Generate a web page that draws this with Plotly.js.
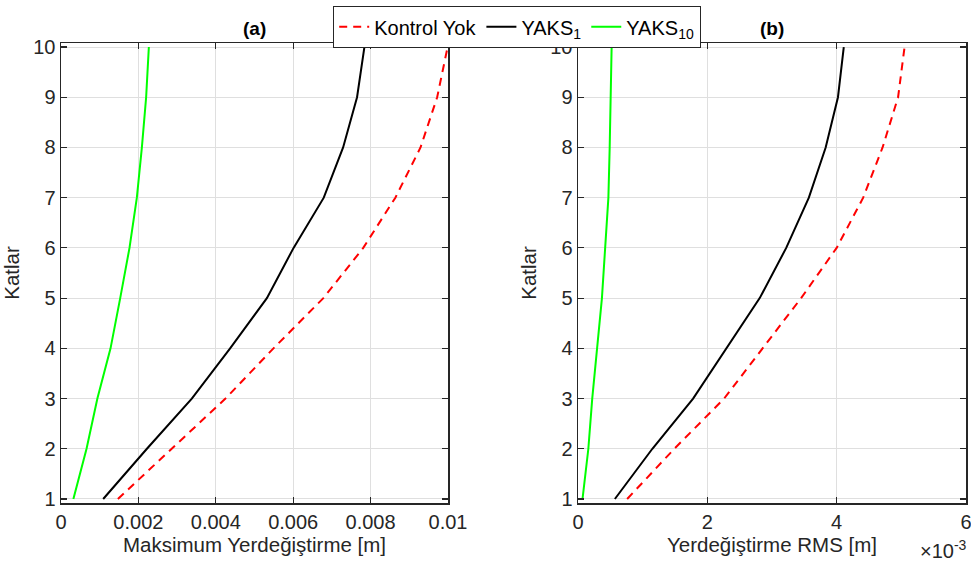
<!DOCTYPE html>
<html>
<head>
<meta charset="utf-8">
<script src="https://cdn.plot.ly/plotly-3.0.1.min.js"></script>
<style>html,body{margin:0;padding:0;background:#fff;}#chart{width:971px;height:566px;}</style>
</head>
<body>
<div id="chart"></div>
<script>
// Katlar (floors)
const katlar = [1, 2, 3, 4, 5, 6, 7, 8, 9, 10];
// (a) Maksimum Yerdeğiştirme [m]
const maxKontrolYok = [0.00147, 0.00286, 0.00425, 0.00549, 0.00678, 0.00781, 0.00864, 0.00929, 0.00972, 0.00999];
const maxYAKS1      = [0.00109, 0.00222, 0.00338, 0.00437, 0.00532, 0.00601, 0.00679, 0.00729, 0.00765, 0.00784];
const maxYAKS10     = [0.00032, 0.00066, 0.00094, 0.00128, 0.00153, 0.00177, 0.00196, 0.00209, 0.00220, 0.00227];
// (b) Yerdeğiştirme RMS [m]
const rmsKontrolYok = [0.00076, 0.00149, 0.00226, 0.00286, 0.00345, 0.00400, 0.00441, 0.00471, 0.00495, 0.00505];
const rmsYAKS1      = [0.00057, 0.00115, 0.00178, 0.00229, 0.00281, 0.00322, 0.00357, 0.00383, 0.00402, 0.00411];
const rmsYAKS10     = [0.00007, 0.00016, 0.00022, 0.00030, 0.00037, 0.00042, 0.00047, 0.00049, 0.00050, 0.00052];

const seriesNames = ['Kontrol Yok', 'YAKS<sub>1</sub>', 'YAKS<sub>10</sub>'];
const xTicksA = [0, 0.002, 0.004, 0.006, 0.008, 0.01];
const xTicksB = [0, 0.002, 0.004, 0.006];
const xTickTextB = ['0', '2', '4', '6'];
const yTicks = [1, 2, 3, 4, 5, 6, 7, 8, 9, 10];

const W = 971, H = 566;
const px = v => v / W, py = v => 1 - v / H;

const styles = [
  {color: '#ff0000', width: 2, dash: '8px,6px'},
  {color: '#000000', width: 2, dash: 'solid'},
  {color: '#00ff00', width: 2, dash: 'solid'}
];
const dataA = [maxKontrolYok, maxYAKS1, maxYAKS10];
const dataB = [rmsKontrolYok, rmsYAKS1, rmsYAKS10];

const traces = [];
dataA.forEach((d, i) => traces.push({x: d, y: katlar, type: 'scatter', mode: 'lines', name: seriesNames[i],
  line: styles[i], xaxis: 'x', yaxis: 'y', showlegend: true}));
dataB.forEach((d, i) => traces.push({x: d, y: katlar, type: 'scatter', mode: 'lines', name: seriesNames[i],
  line: styles[i], xaxis: 'x2', yaxis: 'y2', showlegend: false}));

const FF = 'Liberation Sans, Arial, sans-serif';
const font = {family: FF, size: 20.5, color: '#262626'};
const axisCommon = {
  showline: true, linecolor: '#262626', linewidth: 1.5, mirror: 'ticks',
  ticks: 'inside', ticklen: 6, tickcolor: '#262626', tickwidth: 1.2,
  showgrid: true, gridcolor: '#dfdfdf', gridwidth: 1, zeroline: false,
  ticklabeloverflow: 'allow',
  tickfont: {family: FF, size: 20, color: '#262626'}
};

const layout = {
  width: W, height: H,
  margin: {l: 0, r: 0, t: 0, b: 0},
  paper_bgcolor: '#ffffff', plot_bgcolor: '#ffffff',
  font: font,
  showlegend: true,
  legend: {
    orientation: 'h', x: px(333), y: py(6), xanchor: 'left', yanchor: 'top',
    bgcolor: '#ffffff', bordercolor: '#262626', borderwidth: 1.2,
    font: {family: FF, size: 20, color: '#000000'},
    itemwidth: 30, tracegroupgap: 0
  },
  xaxis: Object.assign({}, axisCommon, {
    domain: [px(61), px(448)], range: [0, 0.0100001], tickvals: xTicksA, anchor: 'y',
    title: {text: 'Maksimum Yerdeğiştirme [m]', font: font, standoff: 6}
  }),
  yaxis: Object.assign({}, axisCommon, {
    domain: [py(503), py(43)], range: [0.92, 10.08], tickvals: yTicks, anchor: 'x',
    title: {text: 'Katlar', font: font, standoff: 8}
  }),
  xaxis2: Object.assign({}, axisCommon, {
    domain: [px(578), px(966)], range: [0, 0.0060001], tickvals: xTicksB, ticktext: xTickTextB, anchor: 'y2',
    title: {text: 'Yerdeğiştirme RMS [m]', font: font, standoff: 6}
  }),
  yaxis2: Object.assign({}, axisCommon, {
    domain: [py(503), py(43)], range: [0.92, 10.08], tickvals: yTicks, anchor: 'x2',
    title: {text: 'Katlar', font: font, standoff: 8}
  }),
  annotations: [
    {text: '<b>(a)</b>', xref: 'paper', yref: 'paper', x: px(254.5), y: py(28), xanchor: 'center', yanchor: 'middle',
     showarrow: false, font: {family: FF, size: 19, color: '#000'}},
    {text: '<b>(b)</b>', xref: 'paper', yref: 'paper', x: px(772), y: py(28), xanchor: 'center', yanchor: 'middle',
     showarrow: false, font: {family: FF, size: 19, color: '#000'}},
    {text: '×10<sup>-3</sup>', xref: 'paper', yref: 'paper', x: px(969), y: py(549), xanchor: 'right', yanchor: 'middle',
     showarrow: false, font: {family: FF, size: 20, color: '#262626'}}
  ]
};

Plotly.newPlot('chart', traces, layout, {displayModeBar: false, staticPlot: true});
</script>
</body>
</html>
